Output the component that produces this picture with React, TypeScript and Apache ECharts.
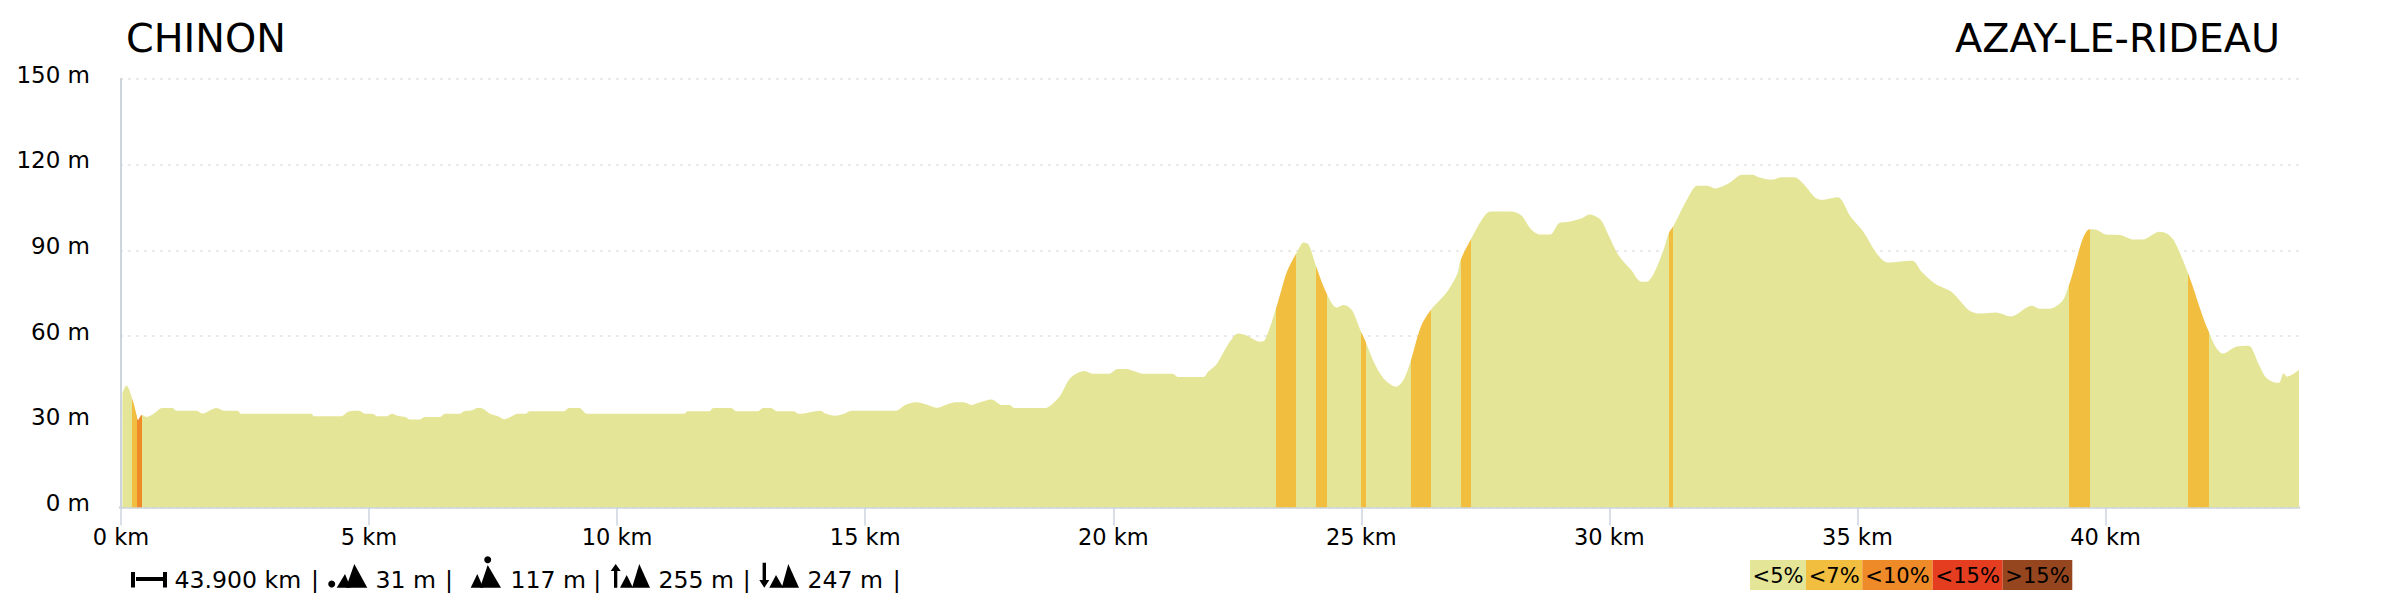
import React, { useEffect, useRef } from "react";
import * as echarts from "echarts";

const titleStart = "CHINON";
const titleEnd = "AZAY-LE-RIDEAU";
const xTickValues = [0, 5, 10, 15, 20, 25, 30, 35, 40];
const yMax = 150;
const yStep = 30;
const xMax = 43.9;

const distanceKm = [
  0.03, 0.11, 0.24, 0.32, 0.34, 0.42, 0.52, 0.65, 0.83, 1.04, 1.11, 1.52, 1.65, 1.78, 1.93, 2.07, 2.35, 2.42, 3.84, 3.89,
  4.43, 4.6, 4.8, 4.92, 5.07, 5.17, 5.35, 5.46, 5.59, 5.74, 5.82, 6.02, 6.12, 6.43, 6.53, 6.82, 6.92, 7.08, 7.18, 7.25,
  7.44, 7.59, 7.72, 7.85, 8.0, 8.16, 8.23, 8.93, 9.03, 9.24, 9.39, 11.35, 11.42, 11.86, 11.94, 12.3, 12.4, 12.84, 12.94, 13.1,
  13.22, 13.56, 13.66, 14.1, 14.2, 14.39, 14.56, 14.72, 15.62, 15.8, 16.03, 16.26, 16.45, 16.62, 16.83, 17.03, 17.14, 17.29, 17.55, 17.75,
  17.91, 18.01, 18.63, 18.8, 18.94, 19.14, 19.42, 19.6, 19.91, 20.09, 20.27, 20.43, 20.6, 21.2, 21.3, 21.82, 21.92, 22.08, 22.33, 22.52,
  22.69, 22.96, 23.06, 23.27, 23.37, 23.5, 23.69, 23.84, 23.94, 24.1, 24.3, 24.5, 24.65, 24.81, 24.98, 25.09, 25.25, 25.45, 25.7, 25.85,
  25.99, 26.2, 26.4, 26.73, 26.94, 27.0, 27.2, 27.42, 27.6, 28.01, 28.22, 28.42, 28.6, 28.81, 28.99, 29.15, 29.43, 29.6, 29.82, 29.97,
  30.18, 30.44, 30.64, 30.75, 30.9, 31.11, 31.19, 31.29, 31.59, 31.77, 31.98, 32.13, 32.39, 32.68, 32.89, 33.01, 33.27, 33.47, 33.73, 33.91,
  34.14, 34.27, 34.6, 34.86, 35.12, 35.38, 35.61, 36.1, 36.3, 36.56, 36.9, 37.25, 37.48, 37.79, 38.1, 38.51, 38.67, 38.87, 39.13, 39.26,
  39.68, 39.82, 40.0, 40.29, 40.57, 40.75, 41.09, 41.24, 41.39, 41.67, 41.96, 42.08, 42.22, 42.37, 42.62, 42.88, 43.09, 43.24, 43.44, 43.5,
  43.59, 43.66, 43.9,
];
const elevationM = [
  40.1, 42.7, 37.4, 32.0, 30.6, 32.4, 31.7, 32.7, 34.8, 34.8, 33.9, 33.9, 32.9, 33.9, 34.8, 33.9, 33.9, 32.8, 32.8, 31.9,
  31.9, 33.7, 33.9, 32.8, 32.8, 31.9, 31.9, 32.8, 32.0, 31.6, 30.8, 30.8, 31.7, 31.7, 32.8, 32.8, 33.7, 34.0, 34.8, 34.8,
  32.8, 32.0, 30.9, 31.7, 32.8, 32.8, 33.7, 33.7, 34.8, 34.8, 32.8, 32.8, 33.7, 33.7, 34.8, 34.8, 33.7, 33.7, 34.8, 34.8,
  33.7, 33.7, 32.8, 33.9, 32.9, 32.1, 32.7, 33.9, 33.9, 35.8, 36.8, 35.9, 34.9, 35.9, 36.8, 36.7, 35.9, 36.7, 37.8, 35.9,
  35.9, 34.8, 34.8, 36.7, 39.4, 45.4, 47.8, 46.8, 46.8, 48.5, 48.5, 47.7, 46.8, 46.8, 45.7, 45.7, 47.7, 50.1, 57.5, 60.9,
  60.2, 58.0, 58.7, 69.1, 75.0, 82.5, 89.0, 92.8, 92.0, 83.8, 75.0, 70.0, 70.9, 69.1, 62.1, 57.9, 51.0, 45.2, 42.3, 44.6,
  51.0, 63.3, 69.1, 75.5, 82.0, 86.6, 93.6, 100.5, 103.6, 103.6, 102.3, 97.4, 95.6, 95.6, 99.6, 99.9, 101.2, 102.6, 100.8, 95.8,
  88.4, 83.1, 79.0, 79.0, 82.1, 91.1, 95.8, 98.5, 108.6, 112.6, 112.6, 111.7, 113.3, 116.5, 116.5, 115.6, 114.7, 115.6, 115.6, 113.3,
  108.6, 107.7, 108.6, 101.9, 96.5, 89.1, 85.8, 86.4, 82.4, 78.4, 75.4, 69.0, 67.9, 68.3, 66.9, 70.6, 69.6, 69.6, 72.3, 77.7,
  97.4, 97.2, 95.6, 95.4, 93.8, 93.8, 96.5, 95.8, 93.1, 81.7, 66.9, 61.6, 56.2, 53.9, 56.2, 56.6, 50.1, 45.4, 43.7, 43.7,
  47.0, 45.8, 48.1,
];

// slope class of each stretch
const zoneStart = [0.22, 0.32, 23.29, 24.09, 25.0, 25.99, 27.0, 31.19, 39.27, 41.67];
const zoneEnd = [0.32, 0.42, 23.69, 24.3, 25.1, 26.4, 27.2, 31.29, 39.68, 42.08];
const zoneClass = [1, 2, 1, 1, 1, 1, 1, 1, 1, 1];

const legendLabels = ["<5%", "<7%", "<10%", "<15%", ">15%"];
const legendColors = ["#e4e597", "#f1be40", "#ee8b28", "#e43d20", "#95461f"];

const statLabels = ["43.900 km", "31 m", "117 m", "255 m", "247 m"];

const FONT = '"DejaVu Sans"';
const xLabelSize = 22.5;
const yLabelSize = 23;
const footerSize = 23.6;
const legendSize = 21;

function poly(points: number[][]) {
  return { type: "polygon", shape: { points }, style: { fill: "#000" } };
}
function box(x: number, y: number, width: number, height: number, fill = "#000") {
  return { type: "rect", shape: { x, y, width, height }, style: { fill } };
}
function dot(cx: number, cy: number, r: number) {
  return { type: "circle", shape: { cx, cy, r }, style: { fill: "#000" } };
}
function text(t: string, x: number, y: number, size: number, align = "left") {
  return {
    type: "text",
    x,
    y,
    style: {
      text: t,
      fill: "#000",
      font: `${size}px ${FONT}`,
      textAlign: align,
      textVerticalAlign: "middle",
    },
  };
}

function buildGraphics() {
  const g: any[] = [];
  g.push(text(titleStart, 126, 38, 39.7));
  g.push(text(titleEnd, 2280, 38, 39.7, "right"));

  // distance icon
  g.push(box(131, 572, 4, 15.5), box(136, 577, 27, 4), box(163, 572, 4, 15.5));
  // lowest point icon
  g.push(dot(331.7, 584, 3.5));
  g.push(poly([[336.7, 587.7], [350.7, 587.7], [345, 574]]));
  g.push(poly([[346, 587.7], [367.3, 587.7], [354.3, 564]]));
  // highest point icon
  g.push(dot(487.7, 559.7, 3.5));
  g.push(poly([[470.7, 587.7], [483.3, 587.7], [477.3, 574]]));
  g.push(poly([[480, 587.7], [501, 587.7], [487.7, 565]]));
  // ascent icon
  g.push(poly([[615.7, 564], [620.7, 571], [617.3, 571], [617.3, 587.7], [614, 587.7], [614, 571], [610.7, 571]]));
  g.push(poly([[620, 587.7], [633, 587.7], [626.7, 575]]));
  g.push(poly([[632, 587.7], [650, 587.7], [639.3, 564]]));
  // descent icon
  g.push(poly([[764.3, 587.7], [769.3, 580], [766, 580], [766, 562.7], [762.6, 562.7], [762.6, 580], [759.3, 580]]));
  g.push(poly([[769.3, 587.7], [783.3, 587.7], [776, 575]]));
  g.push(poly([[781.7, 587.7], [799, 587.7], [788.3, 564]]));

  const statX = [174.5, 375.5, 510.5, 658.5, 807.5];
  const sepX = [315, 449, 597.3, 746.7, 896.7];
  statLabels.forEach((s, i) => {
    g.push(text(s, statX[i], 579.5, footerSize));
    g.push(text("|", sepX[i], 579.5, footerSize, "center"));
  });

  const legendEdges = [1750, 1806, 1862.3, 1932.7, 2002.7, 2072.3];
  legendLabels.forEach((l, i) => {
    g.push(box(legendEdges[i], 560, legendEdges[i + 1] - legendEdges[i], 30, legendColors[i]));
    g.push(text(l, (legendEdges[i] + legendEdges[i + 1]) / 2, 576, legendSize, "center"));
  });
  return g;
}

function buildPieces() {
  const pieces: any[] = [];
  let cursor = -1;
  zoneStart.forEach((s, i) => {
    pieces.push({ gte: cursor, lt: s, color: legendColors[0] });
    pieces.push({ gte: s, lt: zoneEnd[i], color: legendColors[zoneClass[i]] });
    cursor = zoneEnd[i];
  });
  pieces.push({ gte: cursor, lte: xMax + 1, color: legendColors[0] });
  return pieces;
}

export default function App() {
  const ref = useRef<HTMLDivElement>(null);
  useEffect(() => {
    const chart = echarts.init(ref.current!, null, { renderer: "svg" });
    chart.setOption({
      animation: false,
      backgroundColor: "#fff",
      textStyle: { fontFamily: FONT },
      grid: { left: 120, right: 101, top: 79, bottom: 92.5, containLabel: false },
      xAxis: {
        type: "value",
        min: -0.02,
        max: xMax,
        splitLine: { show: false },
        axisLine: { show: true, onZero: false, lineStyle: { color: "#cdd5de", width: 2.5 } },
        axisTick: { show: true, customValues: xTickValues, length: 18, lineStyle: { color: "#cdd5de", width: 1.5 } },
        axisLabel: {
          customValues: xTickValues,
          formatter: (v: number) => `${v} km`,
          color: "#000",
          fontFamily: FONT,
          fontSize: xLabelSize,
          margin: 18,
        },
      },
      yAxis: {
        type: "value",
        min: 0,
        max: yMax,
        interval: yStep,
        axisLine: { show: true, lineStyle: { color: "#cdd5dc", width: 2 } },
        axisTick: { show: false },
        axisLabel: {
          formatter: "{value} m",
          color: "#000",
          fontFamily: FONT,
          fontSize: yLabelSize,
          margin: 30,
          verticalAlign: "bottom",
          lineHeight: 9,
        },
        splitLine: { show: true, lineStyle: { color: "#e4e4e4", type: [3, 5], width: 1.5 } },
      },
      visualMap: {
        type: "piecewise",
        show: false,
        dimension: 0,
        seriesIndex: 0,
        pieces: buildPieces(),
      },
      series: [
        {
          type: "line",
          data: distanceKm.map((d, i) => [d, elevationM[i]]),
          showSymbol: false,
          symbol: "none",
          lineStyle: { width: 0 },
          areaStyle: { opacity: 1 },
          smooth: 0.3,
          z: 3,
        },
      ],
      graphic: { elements: buildGraphics() },
    });
    return () => chart.dispose();
  }, []);
  return <div ref={ref} style={{ position: "absolute", left: 0, top: 0, width: 2400, height: 600 }} />;
}
